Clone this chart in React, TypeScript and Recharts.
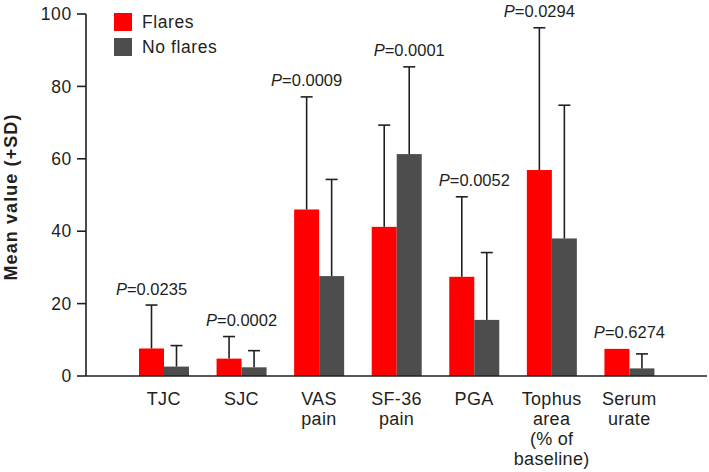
import { Bar, BarChart, LabelList, Legend, XAxis, YAxis } from 'recharts';

// measures, one tick label line per '\n'
const categories = ['TJC', 'SJC', 'VAS\npain', 'SF-36\npain', 'PGA', 'Tophus\narea\n(% of\nbaseline)', 'Serum\nurate'];
const flares = [7.6, 4.8, 46.0, 41.2, 27.4, 56.9, 7.5];
const flaresSd = [12.0, 6.1, 31.1, 28.1, 22.1, 39.3, 0];
const noFlares = [2.6, 2.4, 27.6, 61.3, 15.5, 38.0, 2.1];
const noFlaresSd = [5.8, 4.6, 26.7, 24.1, 18.6, 36.8, 4.0];
const pValues = ['0.0235', '0.0002', '0.0009', '0.0001', '0.0052', '0.0294', '0.6274'];
// which bar the P label sits over
const pAnchor = ['flares', 'group', 'flares', 'noFlares', 'group', 'flares', 'group'];
const yTicks = [0, 20, 40, 60, 80, 100];

const RED = '#ff0000';
const GREY = '#4d4d4d';
const INK = '#231f20';
const FONT = '"Liberation Sans", Arial, Helvetica, sans-serif';

const legendItems = [
  { label: 'Flares', color: RED },
  { label: 'No flares', color: GREY }
];

const data = categories.map((name, i) => ({
  name,
  flares: flares[i],
  flaresSd: flaresSd[i],
  noFlares: noFlares[i],
  noFlaresSd: noFlaresSd[i],
  p: pValues[i],
  anchor: pAnchor[i]
}));

// bar + upper SD whisker, scaled off the bar's own pixel height
function barWithSd(valueKey: 'flares' | 'noFlares', sdKey: 'flaresSd' | 'noFlaresSd') {
  return (props: any) => {
    const { x, y, width, height, fill, payload } = props;
    const v = payload[valueKey];
    const sd = payload[sdKey];
    const ppu = v ? height / v : 0;
    const cx = x + width / 2;
    const top = y - sd * ppu;
    return (
      <g>
        <rect x={x} y={y} width={width} height={height} fill={fill} />
        {sd > 0 && (
          <g stroke={INK} strokeWidth={1.6}>
            <line x1={cx} y1={y} x2={cx} y2={top} />
            <line x1={cx - 6} y1={top} x2={cx + 6} y2={top} />
          </g>
        )}
      </g>
    );
  };
}

const renderP = (props: any) => {
  const vb = props.viewBox ?? props;
  const { x, y, width, height } = vb;
  const d = data[props.index];
  if (!d) return null;
  const ppu = height / d.flares;
  const base = y + height;
  const fTop = d.flares + d.flaresSd;
  const nTop = d.noFlares + d.noFlaresSd;
  const top = d.anchor === 'flares' ? fTop : d.anchor === 'noFlares' ? nTop : Math.max(fTop, nTop);
  const cx = d.anchor === 'flares' ? x + width / 2 : d.anchor === 'noFlares' ? x + width * 1.5 : x + width;
  return (
    <text x={cx} y={base - top * ppu - 10.5} textAnchor="middle" fontSize={16.5} fill={INK} fontFamily={FONT}>
      <tspan fontStyle="italic">P</tspan>
      <tspan>={d.p}</tspan>
    </text>
  );
};

const CategoryTick = (props: any) => {
  const { x, y, payload } = props;
  const lines = String(payload.value).split('\n');
  return (
    <text x={x} y={y} textAnchor="middle" fontSize={18} fill={INK} fontFamily={FONT} letterSpacing={0.3}>
      {lines.map((l, i) => (
        <tspan key={i} x={x} dy={i === 0 ? 29 : 20}>
          {l}
        </tspan>
      ))}
    </text>
  );
};

const YLabel = (props: any) => {
  const vb = props.viewBox;
  const cx = 10;
  const cy = vb.y + vb.height / 2 + 2;
  return (
    <text
      x={cx}
      y={cy}
      transform={`rotate(-90 ${cx} ${cy})`}
      textAnchor="middle"
      dy={6.5}
      fontSize={18}
      fontWeight="bold"
      fill={INK}
      fontFamily={FONT}
      letterSpacing={1.1}
    >
      Mean value (+SD)
    </text>
  );
};

const renderLegend = () => (
  <div style={{ display: 'flex', flexDirection: 'column', gap: 7, fontFamily: FONT, fontSize: 17.5, color: INK, letterSpacing: 0.6 }}>
    {legendItems.map((it) => (
      <div key={it.label} style={{ display: 'flex', alignItems: 'center', height: 18 }}>
        <span style={{ width: 18, height: 18, background: it.color, marginRight: 10, display: 'inline-block' }} />
        <span>{it.label}</span>
      </div>
    ))}
  </div>
);

export default function App() {
  return (
    <div style={{ position: 'absolute', left: 0, top: 0, width: 709, height: 472, background: 'white', fontFamily: FONT }}>
      <BarChart
        width={709}
        height={472}
        data={data}
        margin={{ top: 14, right: 2, left: 0, bottom: 0 }}
        barGap={0}
        barSize={25}
        style={{ overflow: 'visible' }}
      >
        <XAxis
          dataKey="name"
          height={96}
          tickLine={false}
          tickSize={0}
          tickMargin={0}
          interval={0}
          padding={{ left: 39, right: 39 }}
          axisLine={{ stroke: INK, strokeWidth: 1.6 }}
          tick={<CategoryTick />}
        />
        <YAxis
          width={86}
          domain={[0, 100]}
          ticks={yTicks}
          tickSize={9}
          tickMargin={5}
          axisLine={{ stroke: INK, strokeWidth: 1.6 }}
          tickLine={{ stroke: INK, strokeWidth: 1.6 }}
          tick={{ fontSize: 17.5, fill: INK, fontFamily: FONT, letterSpacing: 0.7 }}
          label={<YLabel />}
        />
        <Legend
          layout="vertical"
          align="center"
          verticalAlign="middle"
          content={renderLegend}
          wrapperStyle={{ top: 13, left: 114, width: 'auto', height: 'auto' }}
        />
        <Bar dataKey="flares" name="Flares" fill={RED} isAnimationActive={false} shape={barWithSd('flares', 'flaresSd')}>
          <LabelList dataKey="p" content={renderP} />
        </Bar>
        <Bar dataKey="noFlares" name="No flares" fill={GREY} isAnimationActive={false} shape={barWithSd('noFlares', 'noFlaresSd')} />
      </BarChart>
    </div>
  );
}
